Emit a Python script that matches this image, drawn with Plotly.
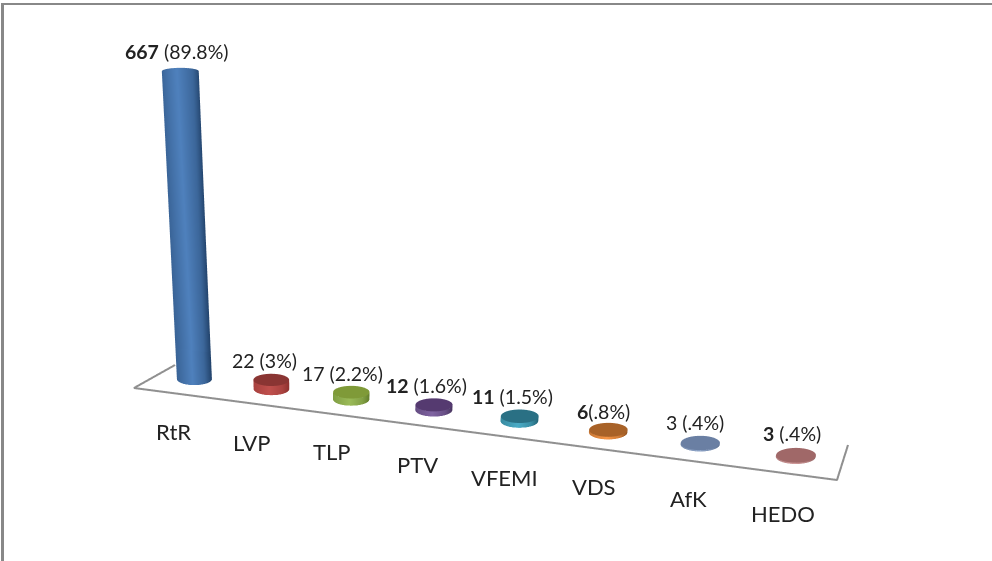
import numpy as np
import plotly.graph_objects as go

categories = ["RtR","LVP","TLP","PTV","VFEMI","VDS","AfK","HEDO"]
values = [667,22,17,12,11,6,3,3]
labels = ["<b>667</b> (89.8%)","22 (3%)","17 (2.2%)","<b>12</b> (1.6%)","<b>11</b> (1.5%)","<b>6</b>(.8%)","3 (.4%)","<b>3</b> (.4%)"]
value_label_px=[(177,51),(264,360),(342,373),(426,385),(512,396),(603,411),(695,422),(792,434)]
cat_label_px=[(173,431),(251,442),(332,451),(417,464),(504,477),(594,486),(688,498),(783,513)]
cap_colors=["#2f5a8f","#8a3533","#7f9a38","#553a70","#2a7084","#a86228","#6a7fa3","#a06868"]
dark_colors=["#1f3f66","#8a2f2d","#5f7a28","#43305a","#1f5f70","#8a4f1f","#55698a","#8a5a5a"]
light_colors=["#4f81bd","#c0504d","#9bbb59","#8064a2","#4bacc6","#f79646","#8fa5c8","#d09a9a"]
floor_px=[(175,365),(134,388),(837,480),(848,445)]

W,H=992,561
AX,AY,AZ=2.0,0.152,0.897
EYE=np.array([0.288,-1.7634,0.4055])
CENTER=np.array([0.0323,-0.0023,-0.0451])
UP=np.array([-0.0389,-0.1499,1.0])
ZMAX=max(values)
NCAT=len(categories)

f_=CENTER-EYE;f_=f_/np.linalg.norm(f_)
s_=np.cross(f_,UP);s_=s_/np.linalg.norm(s_)
u_=np.cross(s_,f_)
T=np.tan(np.pi/8)
def proj(nx,ny,nz):
    w=np.array([AX*(nx-.5),AY*(ny-.5),AZ*(nz-.5)])
    v=w-EYE
    xc,yc,zc=v@s_,v@u_,v@f_
    return np.array([W/2+(W/2)*(xc/zc)/(T*W/H),H/2-(H/2)*(yc/zc)/T])
def jac(nx,ny,nz):
    h=1e-3
    a0=proj(nx,ny,nz)
    return np.array([(proj(nx+h,ny,nz)-a0)/h,(proj(nx,ny+h,nz)-a0)/h]).T
def footprint(cx,z,a,b):
    Jm=jac(cx/NCAT,.5,z/ZMAX)
    U=np.linalg.solve(Jm,[a,0.0]);V=np.linalg.solve(Jm,[0.0,-b])
    return U*[NCAT,1],V*[NCAT,1]
def unproject(px):
    n=np.array([.5,.5])
    for _ in range(6):
        n=n+np.linalg.solve(jac(n[0],n[1],0),np.array(px,float)-proj(n[0],n[1],0))
    return n*[NCAT,1]

FLAT=dict(ambient=1,diffuse=0,specular=0,roughness=1,fresnel=0)
fig=go.Figure()
th=np.linspace(0,2*np.pi,73)
shade=np.interp(np.cos(th),[-1,-.1,.6,1],[.55,1,.6,.05])
for i,v in enumerate(values):
    cx=i+.5
    a=17.5+i*.35;b=6+i*.2
    U0,V0=footprint(cx,0,a,b)
    U1,V1=footprint(cx,v,a+.5*v/ZMAX,b*(1-.45*v/ZMAX))
    ring=lambda Uq,Vq,k:(cx+k*(Uq[0]*np.cos(th)+Vq[0]*np.sin(th)),.5+k*(Uq[1]*np.cos(th)+Vq[1]*np.sin(th)))
    x0,y0=ring(U0,V0,1);x1,y1=ring(U1,V1,1);xc,yc=ring(U1,V1,0)
    fig.add_trace(go.Surface(x=[x0,x1],y=[y0,y1],z=[np.zeros_like(th),np.full_like(th,float(v))],
        surfacecolor=[shade,shade],cmin=0,cmax=1,showscale=False,hoverinfo="skip",
        colorscale=[[0,dark_colors[i]],[1,light_colors[i]]],lighting=FLAT))
    fig.add_trace(go.Surface(x=[x1,xc],y=[y1,yc],z=[np.full_like(th,float(v))]*2,
        surfacecolor=[np.zeros_like(th)]*2,cmin=0,cmax=1,showscale=False,hoverinfo="skip",
        colorscale=[[0,cap_colors[i]],[1,cap_colors[i]]],lighting=FLAT))
fl=np.array([unproject(q) for q in floor_px])
fig.add_trace(go.Scatter3d(x=fl[:,0],y=fl[:,1],z=np.zeros(4),mode="lines",line=dict(color="#909090",width=4),hoverinfo="skip"))
ax_off=dict(visible=False,showgrid=False,zeroline=False,showbackground=False,showspikes=False)
shapes=[dict(type="line",xref="paper",yref="paper",x0=1/W,x1=1,y0=1-4/H,y1=1-4/H,line=dict(color="#888888",width=2)),
        dict(type="line",xref="paper",yref="paper",x0=2.5/W,x1=2.5/W,y0=1-3/H,y1=0,line=dict(color="#888888",width=3))]
ann=[dict(x=a/W,y=1-b/H,xref="paper",yref="paper",xanchor="center",yanchor="middle",showarrow=False,text=s,font=dict(family="Lato",size=19.5,color="#222")) for s,(a,b) in zip(labels,value_label_px)]
ann+=[dict(x=a/W,y=1-b/H,xref="paper",yref="paper",xanchor="center",yanchor="middle",showarrow=False,text=s,font=dict(family="Lato",size=22,color="#222")) for s,(a,b) in zip(categories,cat_label_px)]
XPAD,YPAD=2,6
fig.update_layout(width=W,height=H,margin=dict(l=0,r=0,t=0,b=0),showlegend=False,paper_bgcolor="white",shapes=shapes,annotations=ann,
  scene=dict(domain=dict(x=[0,1],y=[0,1]),aspectmode="manual",
    aspectratio=dict(x=AX*(NCAT+2*XPAD)/NCAT,y=AY*(1+2*YPAD),z=AZ),dragmode="orbit",
    camera=dict(eye=dict(x=EYE[0],y=EYE[1],z=EYE[2]),center=dict(x=CENTER[0],y=CENTER[1],z=CENTER[2]),up=dict(x=UP[0],y=UP[1],z=UP[2]),projection=dict(type="perspective")),
    xaxis=dict(range=[-XPAD,NCAT+XPAD],**ax_off),yaxis=dict(range=[-YPAD,1+YPAD],**ax_off),zaxis=dict(range=[0,ZMAX],**ax_off)))
fig.write_html("out.html",config=dict(displayModeBar=False),post_script="document.body.style.margin='0';")
